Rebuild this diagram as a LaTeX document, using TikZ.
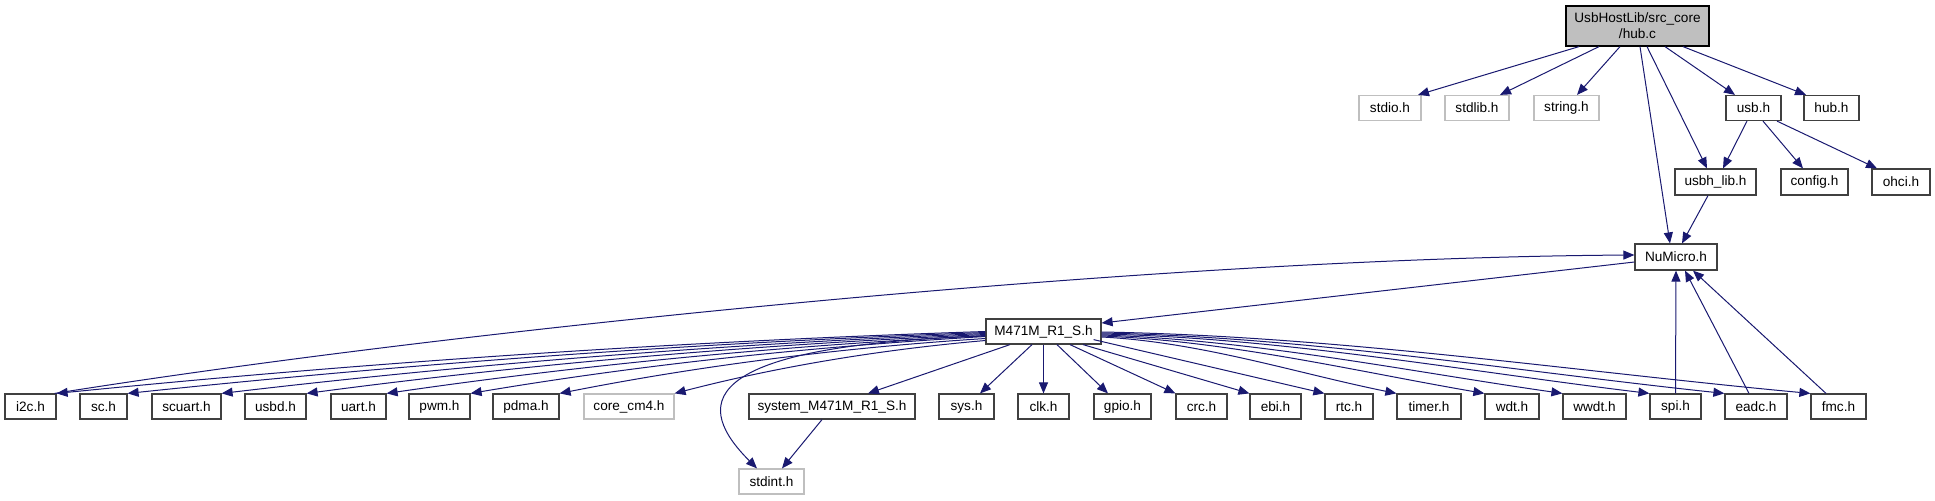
\documentclass[tikz,border=0pt]{standalone}
\usepackage{fontspec}
\setmainfont{Liberation Sans}
\usetikzlibrary{arrows.meta}
\definecolor{edgec}{HTML}{191970}
\definecolor{boxc}{HTML}{404040}
\definecolor{extc}{HTML}{BFBFBF}
\begin{document}
\begin{tikzpicture}[x=0.5pt,y=-0.5pt,
  font=\fontsize{6.8}{8}\selectfont,
  box/.style={draw=boxc, line width=0.6pt, fill=white, inner sep=0pt, minimum height=12.5pt, text=black},
  extbox/.style={box, draw=extc},
  edge/.style={draw=edgec, line width=0.5pt, -{Triangle[length=5.5pt,width=4.5pt]}}]
\useasboundingbox (0,0) rectangle (1935,500);
% top
\node[box, fill=extc, draw=black, minimum width=71.5pt, minimum height=20pt, align=center] (hubc) at (1637.5,26) {UsbHostLib/src\_core\\/hub.c};
\node[extbox, minimum width=31pt] (stdio) at (1390,108) {stdio.h};
\node[extbox, minimum width=32pt] (stdlib) at (1477,108) {stdlib.h};
\node[extbox, minimum width=32.5pt] (string) at (1566.5,108) {string.h};
\node[box, minimum width=27.5pt] (usb) at (1753.5,108) {usb.h};
\node[box, minimum width=27.5pt] (hubh) at (1831.5,108) {hub.h};
\node[box, minimum width=40.5pt, minimum height=13pt] (usbhlib) at (1715.5,182) {usbh\_lib.h};
\node[box, minimum width=33.5pt, minimum height=13pt] (config) at (1814.5,182) {config.h};
\node[box, minimum width=29pt, minimum height=13pt] (ohci) at (1901,182) {ohci.h};
\node[box, minimum width=41pt, minimum height=13pt] (numicro) at (1676,257) {NuMicro.h};
\node[box, minimum width=57.5pt] (m471) at (1043.5,331.5) {M471M\_R1\_S.h};
% bottom row
\node[box, minimum width=25.5pt] (i2c) at (30.5,406.5) {i2c.h};
\node[box, minimum width=23.5pt] (sc) at (103.5,406.5) {sc.h};
\node[box, minimum width=34.5pt] (scuart) at (186.5,406.5) {scuart.h};
\node[box, minimum width=30.5pt] (usbd) at (275.5,406.5) {usbd.h};
\node[box, minimum width=27.5pt] (uart) at (358.5,406.5) {uart.h};
\node[box, minimum width=30.5pt] (pwm) at (439.5,406.5) {pwm.h};
\node[box, minimum width=33pt] (pdma) at (526,406.5) {pdma.h};
\node[extbox, minimum width=45pt] (corecm4) at (629,406.5) {core\_cm4.h};
\node[box, minimum width=83pt] (system) at (832,406.5) {system\_M471M\_R1\_S.h};
\node[box, minimum width=27.5pt] (sys) at (966.5,406.5) {sys.h};
\node[box, minimum width=25.5pt] (clk) at (1043.5,406.5) {clk.h};
\node[box, minimum width=28.5pt] (gpio) at (1122.5,406.5) {gpio.h};
\node[box, minimum width=25.5pt] (crc) at (1201.5,406.5) {crc.h};
\node[box, minimum width=25.5pt] (ebi) at (1275.5,406.5) {ebi.h};
\node[box, minimum width=24pt] (rtc) at (1349,406.5) {rtc.h};
\node[box, minimum width=32pt] (timer) at (1429,406.5) {timer.h};
\node[box, minimum width=27pt] (wdt) at (1512,406.5) {wdt.h};
\node[box, minimum width=31.5pt] (wwdt) at (1594.5,406.5) {wwdt.h};
\node[box, minimum width=25.5pt] (spi) at (1675.5,406.5) {spi.h};
\node[box, minimum width=31pt] (eadc) at (1756,406.5) {eadc.h};
\node[box, minimum width=27.5pt] (fmc) at (1838.5,406.5) {fmc.h};
\node[extbox, minimum width=32.5pt] (stdint) at (771.5,481.5) {stdint.h};
% hub.c edges
\draw[edge] ([xshift=-29.25pt]hubc.south) -- ([xshift=14pt]stdio.north);
\draw[edge] ([xshift=-19.25pt]hubc.south) -- ([xshift=11.5pt]stdlib.north);
\draw[edge] ([xshift=-8.75pt]hubc.south) -- ([xshift=5.25pt]string.north);
\draw[edge] ([xshift=1.25pt]hubc.south) -- ([xshift=-3pt]numicro.north);
\draw[edge] ([xshift=4.75pt]hubc.south) -- ([xshift=-4.25pt]usbhlib.north);
\draw[edge] ([xshift=13.75pt]hubc.south) -- ([xshift=-9.25pt]usb.north);
\draw[edge] ([xshift=22.75pt]hubc.south) -- ([xshift=-12.75pt]hubh.north);
% usb edges
\draw[edge] ([xshift=-3.25pt]usb.south) -- ([xshift=3.75pt]usbhlib.north);
\draw[edge] ([xshift=4.75pt]usb.south) -- ([xshift=-5.75pt]config.north);
\draw[edge] ([xshift=11.75pt]usb.south) -- ([xshift=-12pt]ohci.north);
\draw[edge] ([xshift=-3.75pt]usbhlib.south) -- ([xshift=3pt]numicro.north);
% NuMicro
\draw[edge] ([yshift=-2.5pt]numicro.west) -- ([yshift=4.25pt]m471.east);
\draw[edge] ([xshift=-1pt]i2c.north east) .. controls +(396,-63) and +(-485,3) .. ([yshift=1pt]numicro.west);
\draw[edge] (spi.north) -- (numicro.south);
\draw[edge] ([xshift=-3.5pt]eadc.north) -- ([xshift=4.5pt]numicro.south);
\draw[edge] ([xshift=-6.25pt]fmc.north) -- ([xshift=8.5pt]numicro.south);
% M471M to the left
\draw[edge] (m471.west) .. controls +(-310,10) and +(310,-31) .. (i2c.north east);
\draw[edge] ([yshift=-0.5pt]m471.west) .. controls +(-286,10) and +(286,-30) .. (sc.north east);
\draw[edge] ([yshift=-1pt]m471.west) .. controls +(-255,10) and +(255,-30) .. (scuart.north east);
\draw[edge] ([yshift=-1.5pt]m471.west) .. controls +(-227,10) and +(227,-30) .. (usbd.north east);
\draw[edge] ([yshift=-2pt]m471.west) .. controls +(-200,10) and +(200,-29) .. (uart.north east);
\draw[edge] ([yshift=-2.5pt]m471.west) .. controls +(-172,10) and +(172,-29) .. (pwm.north east);
\draw[edge] ([yshift=-3.5pt]m471.west) .. controls +(-142,9) and +(142,-28) .. (pdma.north east);
\draw[edge] ([yshift=-4.5pt]m471.west) .. controls +(-104,9) and +(104,-27) .. (corecm4.north east);
\draw[edge] ([yshift=-2.25pt]m471.west) .. controls +(-300,10) and +(-60,-60) .. ([xshift=-7.25pt]stdint.north);
% M471M downward
\draw[edge] ([xshift=-16.75pt]m471.south) -- ([xshift=18pt]system.north);
\draw[edge] ([xshift=-5.75pt]m471.south) -- ([xshift=6.75pt]sys.north);
\draw[edge] (m471.south) -- (clk.north);
\draw[edge] ([xshift=6.75pt]m471.south) -- ([xshift=-7.25pt]gpio.north);
\draw[edge] ([xshift=13.25pt]m471.south) -- (crc.north west);
\draw[edge] ([xshift=19.75pt]m471.south) -- (ebi.north west);
\draw[edge] ([xshift=-4pt,yshift=2.5pt]m471.south east) -- (rtc.north west);
\draw[edge] ([yshift=-2.75pt]m471.east) .. controls +(99,5) and +(-99,-20) .. (timer.north west);
\draw[edge] ([yshift=-2.25pt]m471.east) .. controls +(128,5) and +(-128,-22) .. (wdt.north west);
\draw[edge] ([yshift=-1.75pt]m471.east) .. controls +(154,5) and +(-154,-22) .. (wwdt.north west);
\draw[edge] ([yshift=-1.25pt]m471.east) .. controls +(183,4) and +(-183,-22) .. (spi.north west);
\draw[edge] ([yshift=-0.75pt]m471.east) .. controls +(208,4) and +(-208,-22) .. (eadc.north west);
\draw[edge] ([yshift=-0.25pt]m471.east) .. controls +(237,4) and +(-237,-22) .. (fmc.north west);
% system to stdint
\draw[edge] ([xshift=-5pt]system.south) -- ([xshift=5.25pt]stdint.north);
\end{tikzpicture}
\end{document}
